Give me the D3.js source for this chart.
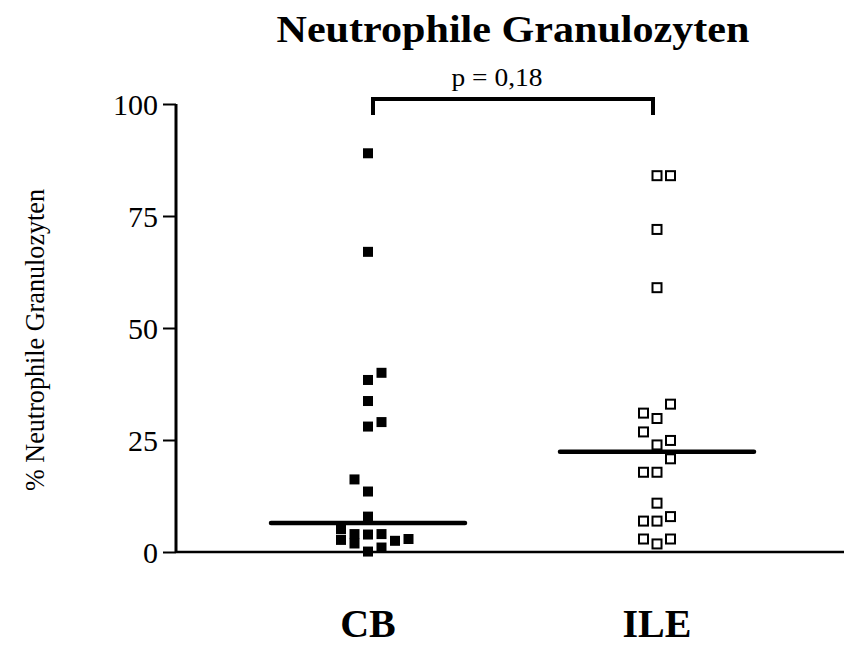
<!DOCTYPE html>
<html>
<head>
<meta charset="utf-8">
<script src="https://cdn.jsdelivr.net/npm/d3@7"></script>
<style>
  html, body { margin: 0; padding: 0; background: #fff; }
  svg { display: block; }
  text { font-family: "Liberation Serif", "Times New Roman", serif; fill: #000; }
</style>
</head>
<body>
<svg id="chart" width="844" height="649"></svg>
<script>
// ---- data ----
const title = "Neutrophile Granulozyten";
const yLabel = "% Neutrophile Granulozyten";
const pLabel = "p = 0,18";
const categories = ["CB", "ILE"];
const cbValues = [0.1, 1.0, 1.9, 2.5, 2.7, 2.9, 3.9, 4.0, 4.0, 5.1, 7.9, 13.5, 16.2, 28, 29, 33.7, 38.4, 40, 67, 89];
const ileValues = [1.8, 2.9, 2.9, 6.9, 6.9, 7.9, 10.9, 17.8, 17.8, 20.8, 23.9, 24.9, 26.8, 29.8, 31, 33, 59, 72, 84, 84];
const yTicks = [0, 25, 50, 75, 100];

// ---- layout ----
const svg = d3.select("#chart");
const y = d3.scaleLinear().domain([0, 100]).range([552, 104]);
const x = d3.scalePoint().domain(categories).range([368, 657]);
const markerSize = 10;
const colStep = 13.5;
const rowH = 15;
const medianHalf = 97;
const evenOrder = [0, 1, -1, 2, -2, 3, -3, 4, -4];
const oddOrder = evenOrder.map(c => -c);

// column scatter layout: sequential rows, alternating side
function arrange(values) {
  const sorted = values.slice().sort((a, b) => a - b);
  const out = [];
  let rowIdx = -1, rowStart = -Infinity, n = 0;
  for (const v of sorted) {
    const py = y(0) - y(v);
    if (py > rowStart + rowH) { rowIdx++; rowStart = py; n = 0; }
    const order = rowIdx % 2 === 0 ? evenOrder : oddOrder;
    out.push({ v, col: order[n++] });
  }
  return out;
}

// y axis
const yAxis = d3.axisLeft(y).tickValues(yTicks).tickSize(13).tickPadding(5).tickFormat(d3.format("d"));
const gy = svg.append("g").attr("transform", "translate(176,0)").call(yAxis);
gy.select(".domain").attr("stroke", "#000").attr("stroke-width", 3).attr("d", "M0,104V552");
gy.selectAll(".tick line").attr("stroke", "#000").attr("stroke-width", 2);
gy.selectAll(".tick text").attr("font-size", 30).attr("dy", "0.34em");

// x axis line
svg.append("line").attr("x1", 176).attr("x2", 844).attr("y1", y(0)).attr("y2", y(0))
  .attr("stroke", "#000").attr("stroke-width", 2.5);

// points
svg.append("g").selectAll("rect").data(arrange(cbValues)).join("rect")
  .attr("x", d => x("CB") + d.col * colStep - markerSize / 2)
  .attr("y", d => y(d.v) - markerSize / 2)
  .attr("width", markerSize).attr("height", markerSize)
  .attr("fill", "#000");

svg.append("g").selectAll("rect").data(arrange(ileValues)).join("rect")
  .attr("x", d => x("ILE") + d.col * colStep - (markerSize - 1) / 2)
  .attr("y", d => y(d.v) - (markerSize - 1) / 2)
  .attr("width", markerSize - 1).attr("height", markerSize - 1)
  .attr("fill", "none").attr("stroke", "#000").attr("stroke-width", 2);

// medians
const medians = [
  { c: "CB", m: d3.median(cbValues) },
  { c: "ILE", m: d3.median(ileValues) }
];
svg.append("g").selectAll("line").data(medians).join("line")
  .attr("x1", d => x(d.c) - medianHalf).attr("x2", d => x(d.c) + medianHalf)
  .attr("y1", d => y(d.m)).attr("y2", d => y(d.m))
  .attr("stroke", "#000").attr("stroke-width", 4.5).attr("stroke-linecap", "round");

// significance bracket
const bx1 = x("CB") + 5, bx2 = x("ILE") - 4;
svg.append("path")
  .attr("d", `M${bx1},115V99H${bx2}V115`)
  .attr("fill", "none").attr("stroke", "#000").attr("stroke-width", 4);
svg.append("text").attr("x", 497).attr("y", 86).attr("text-anchor", "middle")
  .attr("font-size", 26).attr("textLength", 91).attr("lengthAdjust", "spacingAndGlyphs").text(pLabel);

// title
svg.append("text").attr("x", 513).attr("y", 42).attr("text-anchor", "middle")
  .attr("font-size", 37).attr("font-weight", "bold")
  .attr("textLength", 473).attr("lengthAdjust", "spacingAndGlyphs").text(title);

// y label
svg.append("text").attr("transform", "translate(44,340) rotate(-90)").attr("text-anchor", "middle")
  .attr("font-size", 27).attr("textLength", 302).attr("lengthAdjust", "spacingAndGlyphs").text(yLabel);

// category labels
svg.append("g").selectAll("text").data(categories).join("text")
  .attr("x", d => x(d)).attr("y", 637).attr("text-anchor", "middle")
  .attr("font-size", 40).attr("font-weight", "bold").text(d => d);
</script>
</body>
</html>
